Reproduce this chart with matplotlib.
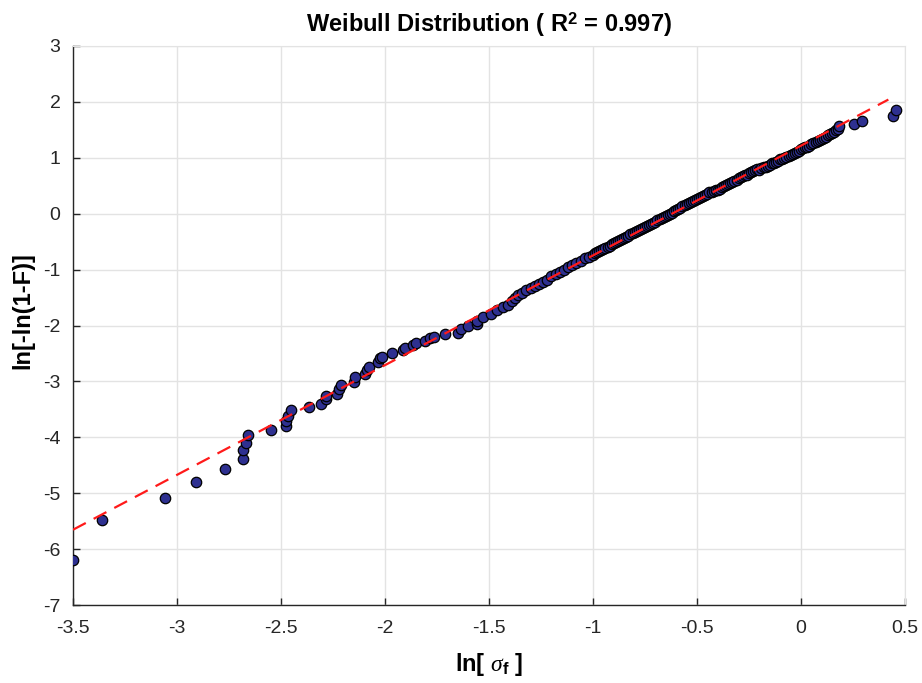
import numpy as np
import matplotlib.pyplot as plt

plt.rcParams['font.family'] = ['Liberation Sans', 'DejaVu Sans']
plt.rcParams['axes.unicode_minus'] = False
plt.rcParams['mathtext.fontset'] = 'custom'
plt.rcParams['mathtext.rm'] = 'Liberation Sans'
plt.rcParams['mathtext.it'] = 'Liberation Serif:italic'
plt.rcParams['mathtext.bf'] = 'Liberation Sans:bold'

# ln(strength) vs ln(-ln(1-F)), lower tail (sparse points)
x_low = [-3.50, -3.36, -3.06, -2.91, -2.77, -2.684, -2.684, -2.668, -2.66,
         -2.548, -2.476, -2.476, -2.465, -2.453, -2.364, -2.309, -2.285,
         -2.284, -2.229, -2.221, -2.21, -2.149, -2.143, -2.096, -2.085,
         -2.075, -2.032, -2.024, -2.013, -1.968, -1.912, -1.904, -1.867,
         -1.851, -1.808, -1.784, -1.763, -1.712, -1.648, -1.636, -1.60,
         -1.559, -1.556, -1.527, -1.492, -1.463, -1.431, -1.407, -1.39,
         -1.375, -1.359]
y_low = [-6.20, -5.48, -5.09, -4.80, -4.56, -4.38, -4.23, -4.10, -3.96,
         -3.875, -3.79, -3.70, -3.62, -3.52, -3.46, -3.41, -3.32,
         -3.27, -3.23, -3.13, -3.07, -3.01, -2.93, -2.875, -2.79,
         -2.74, -2.655, -2.58, -2.56, -2.49, -2.43, -2.40, -2.34,
         -2.31, -2.28, -2.23, -2.20, -2.16, -2.13, -2.07, -2.01,
         -1.97, -1.92, -1.85, -1.80, -1.73, -1.67, -1.625, -1.57,
         -1.51, -1.45]

# central part of the sample (dense)
x_mid = [-1.34, -1.32, -1.30, -1.28, -1.26, -1.24, -1.22, -1.20, -1.18,
         -1.16, -1.14, -1.12, -1.10, -1.08, -1.06, -1.04, -1.02,
         -1.00, -0.99, -0.98, -0.97, -0.96, -0.95, -0.94, -0.93, -0.92,
         -0.91, -0.90, -0.89, -0.88, -0.87, -0.86, -0.85, -0.84, -0.83,
         -0.82, -0.81, -0.80, -0.79, -0.78, -0.77, -0.76, -0.75, -0.74,
         -0.73, -0.72, -0.71, -0.70, -0.69, -0.68, -0.67, -0.66, -0.65,
         -0.64, -0.63, -0.62, -0.61, -0.60, -0.59, -0.58, -0.57, -0.56,
         -0.55, -0.54, -0.53, -0.52, -0.51, -0.50, -0.49, -0.48, -0.47,
         -0.46, -0.45, -0.44, -0.43, -0.42, -0.41, -0.40, -0.39, -0.38,
         -0.37, -0.36, -0.35, -0.34, -0.33, -0.32, -0.31, -0.30, -0.29,
         -0.28, -0.27, -0.26, -0.25, -0.24, -0.23, -0.22, -0.21]
y_mid = [-1.41, -1.37, -1.33, -1.30, -1.26, -1.22, -1.18, -1.12, -1.08,
         -1.04, -1.00, -0.96, -0.92, -0.88, -0.84, -0.80, -0.77,
         -0.73, -0.71, -0.69, -0.67, -0.65, -0.63, -0.61, -0.59, -0.57,
         -0.55, -0.53, -0.51, -0.49, -0.47, -0.45, -0.43, -0.41, -0.39,
         -0.37, -0.35, -0.33, -0.31, -0.29, -0.28, -0.26, -0.24, -0.22,
         -0.20, -0.18, -0.16, -0.14, -0.12, -0.10, -0.08, -0.06, -0.04,
         -0.02, 0.00, 0.02, 0.04, 0.07, 0.09, 0.11, 0.13, 0.15,
         0.17, 0.19, 0.21, 0.23, 0.25, 0.27, 0.28, 0.30, 0.32,
         0.34, 0.36, 0.38, 0.39, 0.41, 0.42, 0.43, 0.45, 0.47,
         0.49, 0.51, 0.53, 0.55, 0.57, 0.59, 0.61, 0.63, 0.65,
         0.67, 0.69, 0.70, 0.72, 0.74, 0.76, 0.78, 0.80]

# upper tail
x_high = [-0.20, -0.19, -0.18, -0.17, -0.16, -0.15, -0.14, -0.13, -0.12,
          -0.11, -0.10, -0.09, -0.08, -0.07, -0.06, -0.05, -0.04, -0.03,
          -0.02, -0.01, 0.00, 0.01, 0.02, 0.03, 0.04, 0.05, 0.06, 0.07,
          0.08, 0.09, 0.10, 0.11, 0.12, 0.13, 0.14, 0.15, 0.16, 0.168,
          0.176, 0.184, 0.256, 0.295, 0.441, 0.457]
y_high = [0.79, 0.81, 0.83, 0.84, 0.86, 0.88, 0.90, 0.91, 0.93,
          0.95, 0.97, 0.98, 1.00, 1.02, 1.04, 1.05, 1.07, 1.09,
          1.11, 1.13, 1.15, 1.17, 1.19, 1.20, 1.22, 1.24, 1.26, 1.28,
          1.30, 1.32, 1.34, 1.36, 1.38, 1.40, 1.42, 1.45, 1.47, 1.49,
          1.51, 1.57, 1.60, 1.65, 1.74, 1.86]

# linear fit: y = m*x + b
m, b = 1.963, 1.217
fit_x = [-3.5, 0.42]

x_ticks = [-3.5, -3, -2.5, -2, -1.5, -1, -0.5, 0, 0.5]
y_ticks = [3, 2, 1, 0, -1, -2, -3, -4, -5, -6, -7]

xs = np.array(x_low + x_mid + x_high)
ys = np.array(y_low + y_mid + y_high)

fig = plt.figure(figsize=(9.22, 6.83), dpi=100)
ax = fig.add_axes([73/922, 1 - 605/683, 832/922, 559/683])

fx = np.array(fit_x)
ax.plot(xs, ys, 'o', markersize=7.5, markerfacecolor='#2e3090',
        markeredgecolor='black', markeredgewidth=0.9, zorder=3)
ax.plot(fx, m*fx + b, '--', color='#ff1a1a', linewidth=1.6,
        dashes=(6.5, 4), zorder=4)

ax.set_xlim(-3.5, 0.5)
ax.set_ylim(-7, 3)
ax.set_xticks(x_ticks)
ax.set_xticklabels(['%g' % t for t in x_ticks])
ax.set_yticks(y_ticks)
ax.set_yticklabels(['%g' % t for t in y_ticks])
ax.grid(True, color='#e3e3e3', linewidth=1)
ax.set_axisbelow(True)

for side in ['top', 'right']:
    ax.spines[side].set_color('#e3e3e3')
for side in ['left', 'bottom']:
    ax.spines[side].set_color('#262626')
    ax.spines[side].set_linewidth(1)
ax.tick_params(direction='in', length=5, width=1, colors='#262626',
               labelsize=14, top=False, right=False)
ax.tick_params(axis='x', pad=11)
ax.tick_params(axis='y', pad=9)

ax.set_title(r'Weibull Distribution ( R$^{\mathbf{2}}$ = 0.997)',
             fontsize=17, fontweight='bold', pad=10)
ax.set_xlabel(r'ln[ $\sigma_{\mathbf{f}}$ ]', fontsize=17, fontweight='bold')
ax.set_ylabel('ln[-ln(1-F)]', fontsize=17, fontweight='bold')
ax.xaxis.set_label_coords(0.5, -0.082)
ax.yaxis.set_label_coords(-0.046, 0.526)

fig.savefig('out.png', dpi=100)
